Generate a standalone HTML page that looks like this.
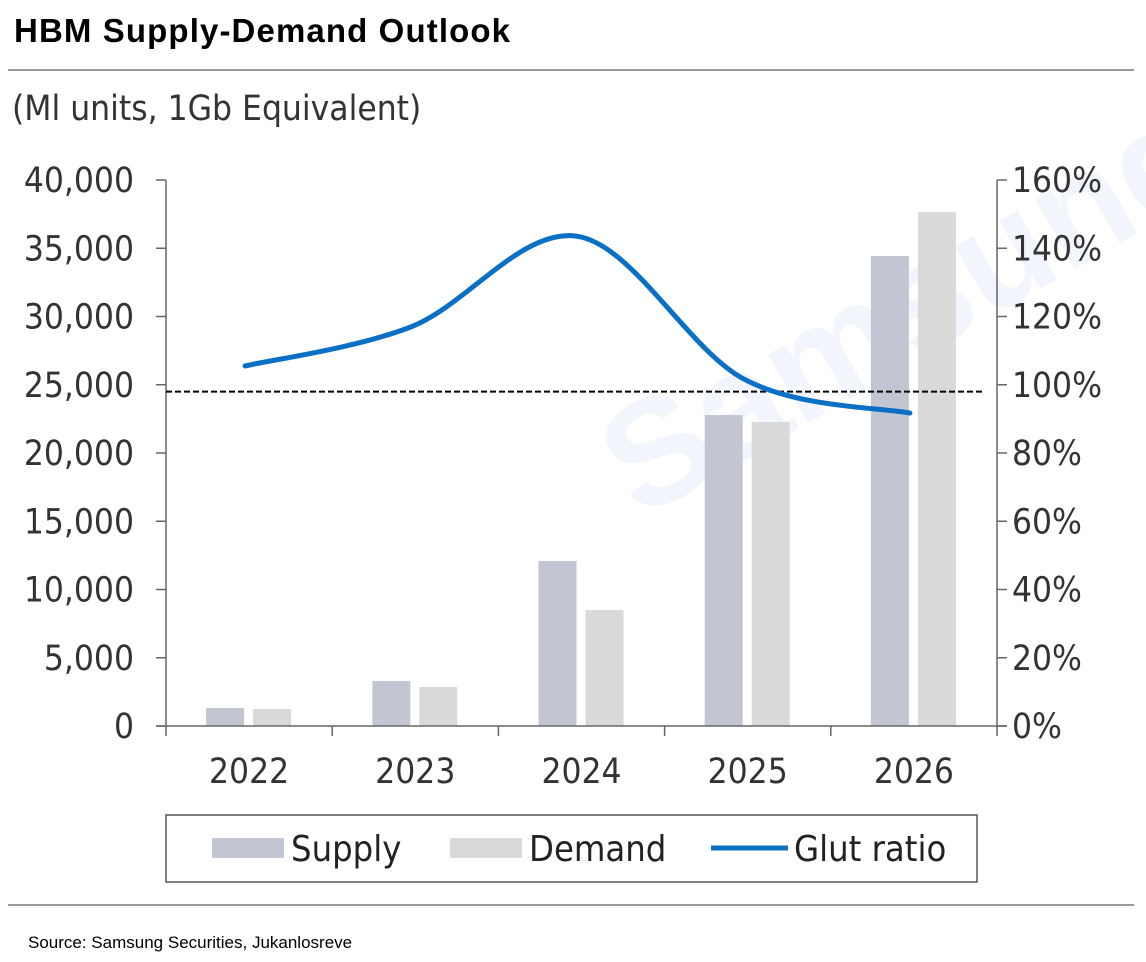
<!DOCTYPE html>
<html><head><meta charset="utf-8"><style>
html,body{margin:0;padding:0;background:#fff;}
svg{display:block;}
text{font-family:"Liberation Sans Narrow","DejaVu Sans Condensed","Liberation Sans",sans-serif;}
</style></head><body>
<svg id="chart" width="1146" height="962" viewBox="0 0 1146 962" xmlns="http://www.w3.org/2000/svg">
<text x="14" y="42" font-size="33" font-weight="bold" fill="#000" textLength="496" style="font-family:'Liberation Sans',sans-serif">HBM Supply-Demand Outlook</text>
<line x1="8" y1="70" x2="1134" y2="70" stroke="#999" stroke-width="2"/>
<text x="12" y="120" font-size="35" fill="#333">(Ml units, 1Gb Equivalent)</text>
<text x="0" y="0" font-size="150" font-weight="bold" fill="#f3f5fc" transform="translate(640,520) rotate(-30)" style="font-family:'Liberation Sans',sans-serif">Samsung</text>
<g id="plot"></g>
<g>
<rect x="166" y="815" width="811" height="67" fill="#fff" stroke="#555" stroke-width="1.5"/>
<rect x="212" y="838" width="72" height="20" fill="#c2c5d2"/>
<text x="291" y="861" font-size="36" fill="#222">Supply</text>
<rect x="450" y="838" width="72" height="20" fill="#d9d9d9"/>
<text x="529" y="861" font-size="36" fill="#222">Demand</text>
<line x1="711" y1="848" x2="788" y2="848" stroke="#0a70c6" stroke-width="5"/>
<text x="794" y="861" font-size="36" fill="#222">Glut ratio</text>
</g>
<line x1="8" y1="905" x2="1134" y2="905" stroke="#999" stroke-width="2"/>
<text x="28" y="948" font-size="17" fill="#000" style="font-family:'Liberation Sans',sans-serif">Source: Samsung Securities, Jukanlosreve</text>
</svg>
<script>
const categories = ["2022","2023","2024","2025","2026"];
const supply = [1320, 3300, 12090, 22780, 34430];
const demand = [1250, 2850, 8500, 22270, 37650];
const glut = [105.5, 117, 143.5, 101.7, 91.7];
const leftTicks = [0,5000,10000,15000,20000,25000,30000,35000,40000];
const rightTicks = [0,20,40,60,80,100,120,140,160];
const refLine = 98;

const NS="http://www.w3.org/2000/svg";
const g=document.getElementById('plot');
const X0=166, X1=997, Y0=726, Y1=180;
const bw=(X1-X0)/categories.length;
const yL=v=>Y0-(v/40000)*(Y0-Y1);
const yR=v=>Y0-(v/160)*(Y0-Y1);
const xc=i=>X0+bw*(i+0.5);
function mk(tag,attrs){const e=document.createElementNS(NS,tag);for(const k in attrs)e.setAttribute(k,attrs[k]);g.appendChild(e);return e;}

let ax=mk('line',{x1:X0,y1:Y1,x2:X0,y2:Y0,stroke:'#666','stroke-width':1.5});


ax=mk('line',{x1:X1,y1:Y1,x2:X1,y2:Y0,stroke:'#666','stroke-width':1.5});



leftTicks.forEach(v=>{
  const y=yL(v);
  const t=mk('line',{x1:X0-10,y1:y,x2:X0,y2:y,stroke:'#666','stroke-width':1.5});
  
  
  const l=mk('text',{x:X0-32,y:y+12,'font-size':35,fill:'#333','text-anchor':'end'});
  l.textContent=v.toLocaleString('en-US');
  
  
});
rightTicks.forEach(v=>{
  const y=yR(v);
  const t=mk('line',{x1:X1,y1:y,x2:X1+10,y2:y,stroke:'#666','stroke-width':1.5});
  
  
  const l=mk('text',{x:X1+15,y:y+12,'font-size':35,fill:'#333'});
  l.textContent=v+'%';
  
  
});

categories.forEach((c,i)=>{
  const cx=xc(i);
  let b=mk('rect',{x:cx-43,y:yL(supply[i]),width:38,height:Y0-yL(supply[i]),fill:'#c2c5d2'});
  
  
  b=mk('rect',{x:cx+4,y:yL(demand[i]),width:38,height:Y0-yL(demand[i]),fill:'#d9d9d9'});
  
  
  const l=mk('text',{x:cx,y:Y0+57,'font-size':35,fill:'#333','text-anchor':'middle'});
  l.textContent=c;
  
  
});
for(let i=0;i<=categories.length;i++){
  const x=X0+bw*i;
  const t=mk('line',{x1:x,y1:Y0,x2:x,y2:Y0+10,stroke:'#666','stroke-width':1.5});
  
  
}
ax=mk('line',{x1:X0-10,y1:Y0,x2:X1+10,y2:Y0,stroke:'#666','stroke-width':1.5});



const rl=mk('line',{x1:X0,y1:yR(refLine),x2:985,y2:yR(refLine),stroke:'#000','stroke-width':2,'stroke-dasharray':'6,3'});



const pts=glut.map((v,i)=>[xc(i)-4,yR(v)]);
let d='M'+pts[0][0]+','+pts[0][1];
for(let i=0;i<pts.length-1;i++){
  const p0=pts[Math.max(0,i-1)],p1=pts[i],p2=pts[i+1],p3=pts[Math.min(pts.length-1,i+2)];
  const c1=[p1[0]+(p2[0]-p0[0])/6,p1[1]+(p2[1]-p0[1])/6];
  const c2=[p2[0]-(p3[0]-p1[0])/6,p2[1]-(p3[1]-p1[1])/6];
  d+=' C'+c1+' '+c2+' '+p2;
}
const gl=mk('path',{d:d,fill:'none',stroke:'#0a70c6','stroke-width':5,'stroke-linecap':'round'});


</script>
</body></html>
